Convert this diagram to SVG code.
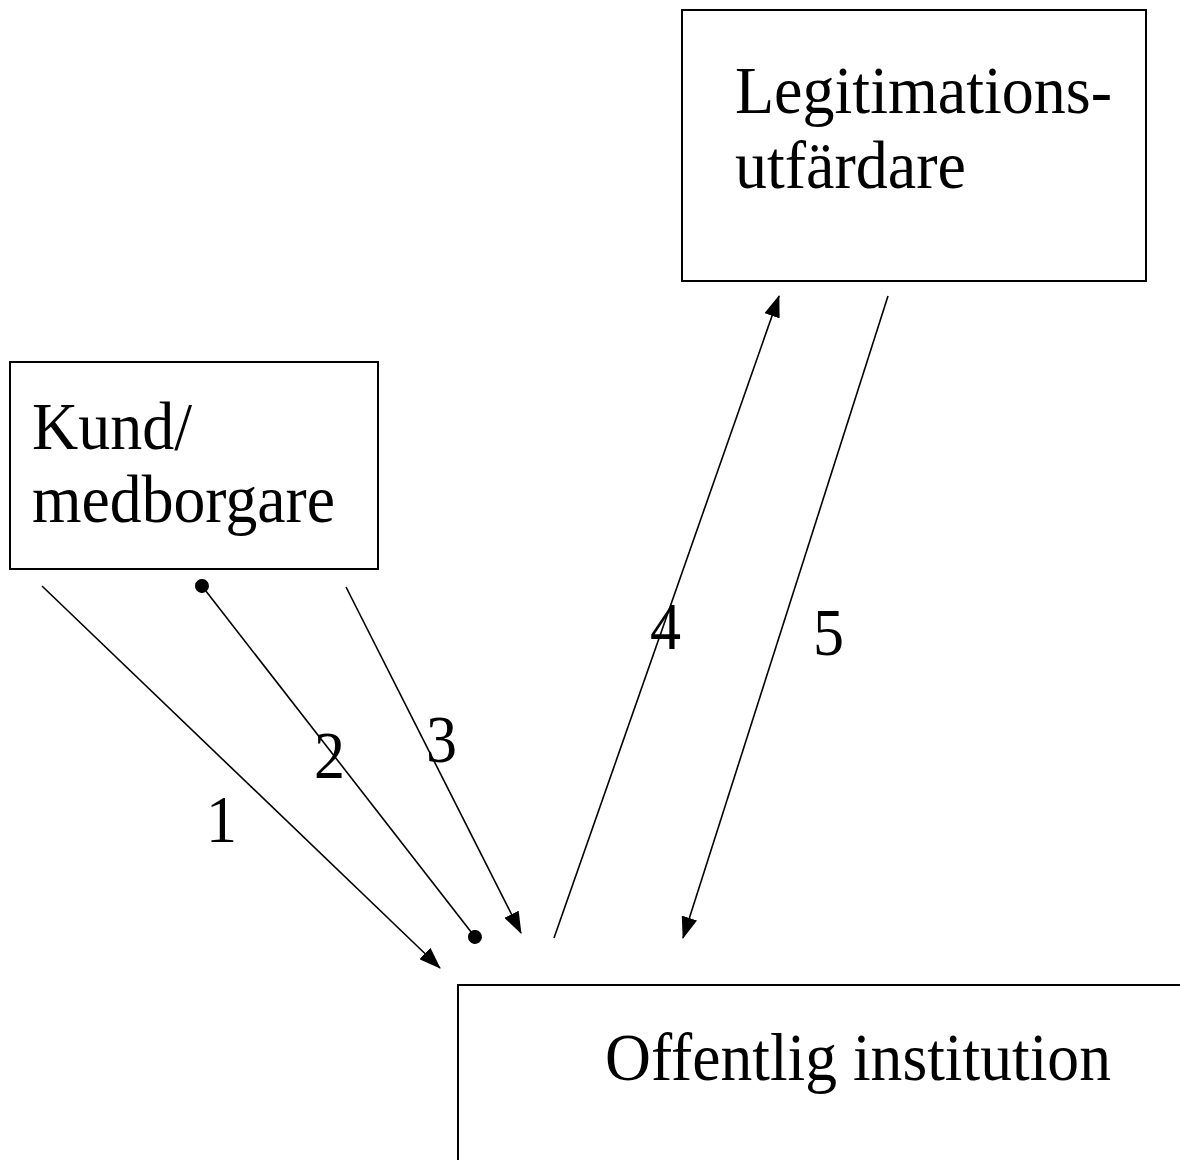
<svg xmlns="http://www.w3.org/2000/svg" width="1180" height="1160" viewBox="0 0 1180 1160">
<style>
.box{fill:#fff;stroke:#000;stroke-width:2}
.lbl{font-family:"Liberation Serif","Times New Roman",serif;font-size:67px;fill:#000}
.con{stroke:#000;stroke-width:1.6;fill:none}
</style>
<defs>
<marker id="arr" markerUnits="userSpaceOnUse" viewBox="0 0 22 16" refX="21" refY="8" markerWidth="22" markerHeight="16" orient="auto">
<path d="M0,0 L22,8 L0,16 Z" fill="#000"/>
</marker>
<marker id="dot" markerUnits="userSpaceOnUse" viewBox="0 0 16 16" refX="8" refY="8" markerWidth="16" markerHeight="16" orient="auto">
<circle cx="8" cy="8" r="7" fill="#000"/>
</marker>
</defs>
<rect width="1180" height="1160" fill="#fff"/>
<g id="kund">
<rect class="box" x="10" y="362" width="368" height="207"/>
<text class="lbl" x="32" y="449" textLength="160" lengthAdjust="spacingAndGlyphs">Kund/</text>
<text class="lbl" x="32" y="522" textLength="303" lengthAdjust="spacingAndGlyphs">medborgare</text>
</g>
<g id="legitimation">
<rect class="box" x="682" y="10" width="464" height="271"/>
<text class="lbl" x="735" y="113" textLength="377" lengthAdjust="spacingAndGlyphs">Legitimations-</text>
<text class="lbl" x="735" y="188" textLength="231" lengthAdjust="spacingAndGlyphs">utfärdare</text>
</g>
<g id="offentlig">
<rect class="box" x="458" y="985" width="800" height="300"/>
<text class="lbl" x="605" y="1080" textLength="506" lengthAdjust="spacingAndGlyphs">Offentlig institution</text>
</g>
<g id="connectors">
<line class="con" x1="42" y1="586" x2="440" y2="968" marker-end="url(#arr)"/>
<line class="con" x1="202" y1="586" x2="475" y2="937" marker-start="url(#dot)" marker-end="url(#dot)"/>
<line class="con" x1="346" y1="587" x2="521" y2="933" marker-end="url(#arr)"/>
<line class="con" x1="554" y1="938" x2="779" y2="296" marker-end="url(#arr)"/>
<line class="con" x1="888" y1="296" x2="683" y2="938" marker-end="url(#arr)"/>
<text class="lbl" x="206" y="842" textLength="31" lengthAdjust="spacingAndGlyphs">1</text>
<text class="lbl" x="314" y="778" textLength="31" lengthAdjust="spacingAndGlyphs">2</text>
<text class="lbl" x="426" y="762" textLength="31" lengthAdjust="spacingAndGlyphs">3</text>
<text class="lbl" x="650" y="649" textLength="31" lengthAdjust="spacingAndGlyphs">4</text>
<text class="lbl" x="813" y="655" textLength="31" lengthAdjust="spacingAndGlyphs">5</text>
</g>
</svg>
